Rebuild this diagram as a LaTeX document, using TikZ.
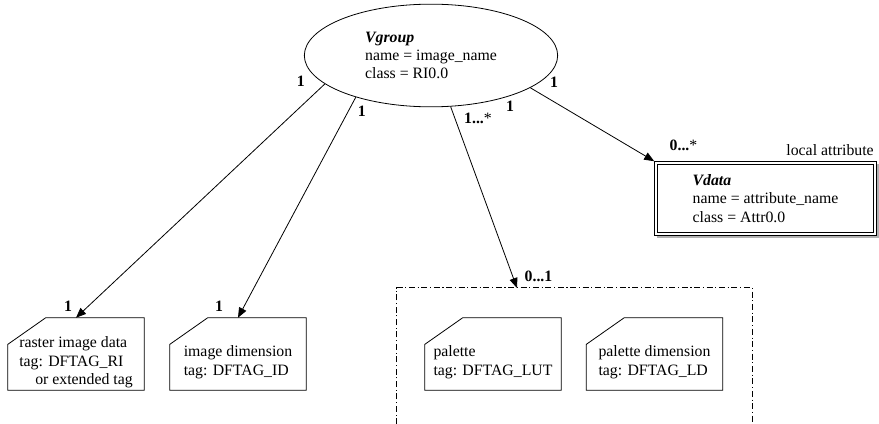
\documentclass[tikz,border=0pt]{standalone}
\usepackage{fontspec}
\setmainfont{Liberation Serif}
\usetikzlibrary{arrows.meta, shapes.geometric}

\begin{document}
\begin{tikzpicture}[
    x=0.75pt, y=0.75pt,
    font=\fontsize{11.85}{13.8}\selectfont,
    >={Triangle[length=7.5pt, width=6pt]},
    group/.style={draw, ellipse, align=left, inner sep=0pt,
                  minimum width=190pt, minimum height=77pt, line width=0.6pt},
    attrbox/.style={draw, line width=0.45pt, fill=white, align=left,
                    minimum width=166.5pt, minimum height=55.5pt},
    innerline/.style={line width=0.45pt},
    shade/.style={fill=black!30},
    card/.style={minimum width=102pt, minimum height=54pt, inner sep=0pt},
    cardtext/.style={align=left, inner sep=0pt, yshift=-6.3pt},
    cardline/.style={line width=0.6pt, line join=miter},
    arr/.style={->, line width=0.6pt},
    grp/.style={line width=0.6pt, dash pattern=on 4.5pt off 2pt on 0.8pt off 2pt},
    lbl/.style={font=\fontsize{11.85}{13.8}\selectfont\bfseries, inner sep=0pt},
    note/.style={inner sep=0pt},
]
\useasboundingbox (0,0) rectangle (879,-424);

% ---- main objects ----
\node[group] (vgroup) at (431,-55.5)
    {\textbf{\textit{Vgroup}}\\name = image\_name\\class = RI0.0};
\node[attrbox] (vdata) at (765.5,-198.5)
    {\textbf{\textit{Vdata}}\\name = attribute\_name\\class = Attr0.0};
% double frame and shadow of the attribute box
\draw[innerline] ([shift={(2.5pt,-2.5pt)}]vdata.north west)
    rectangle ([shift={(-2.5pt,2.5pt)}]vdata.south east);
\fill[shade] ([shift={(2pt,-0.25pt)}]vdata.south west)
    rectangle ([shift={(1.7pt,-1.7pt)}]vdata.south east);
\fill[shade] ([shift={(0.25pt,-2pt)}]vdata.north east)
    rectangle ([shift={(1.7pt,-1.7pt)}]vdata.south east);
\node[note, anchor=east] (locattr) at (874,-150) {local attribute};

% ---- tagged data elements ----
\node[card, label={[cardtext]center:{raster image data\\tag: DFTAG\_RI\\\hspace*{12pt}or extended tag}}]
    (raster) at (76,-354) {};
\node[card, label={[cardtext]center:{image dimension\\tag: DFTAG\_ID}}]
    (imgdim) at (238,-354) {};
\node[card, label={[cardtext]center:{palette\\tag: DFTAG\_LUT}}]
    (pal) at (493,-354) {};
\node[card, label={[cardtext]center:{palette dimension\\tag: DFTAG\_LD}}]
    (paldim) at (654.5,-354) {};
% cut top-left corner
\foreach \n in {raster, imgdim, pal, paldim}
  \draw[cardline] ([yshift=-20pt]\n.north west) -- ([xshift=28.5pt]\n.north west)
      -- (\n.north east) -- (\n.south east) -- (\n.south west) -- cycle;

% ---- optional palette group (open at the bottom) ----
\node[minimum width=266.25pt, minimum height=102pt, inner sep=0pt] (palgroup) at (574.5,-356) {};
\draw[grp] (palgroup.south west) |- (palgroup.north east) -- (palgroup.south east);
\coordinate (palin) at (517,-288);

% ---- links ----
\draw[arr] (vgroup.195) -- (raster.north);
\draw[arr] (vgroup.209) -- (imgdim.north);
\draw[arr] (vgroup.291) -- (palin);
\draw[arr] (vgroup.342) -- (vdata.north west);

% ---- multiplicities ----
\node[lbl] (m1) at (300.7,-81.7) {1};
\node[lbl] (m2) at (361.7,-111.7) {1};
\node[lbl] (m3) at (478,-118) {1...\textmd{*}};
\node[lbl] (m4) at (510,-106.7) {1};
\node[lbl] (m5) at (554,-82.7) {1};
\node[lbl] (m6) at (683.5,-145.7) {0...\textmd{*}};
\node[lbl] (m7) at (538.5,-276) {0...1};
\node[lbl] (m8) at (68,-306.7) {1};
\node[lbl] (m9) at (219,-306.7) {1};
\end{tikzpicture}
\end{document}
